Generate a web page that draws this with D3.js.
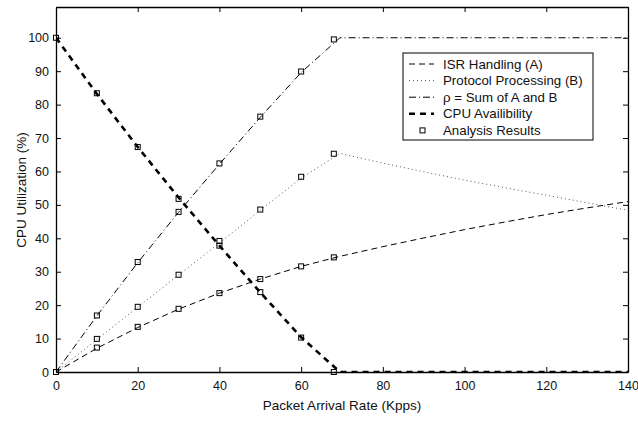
<!DOCTYPE html>
<html>
<head>
<meta charset="utf-8">
<script src="https://cdn.jsdelivr.net/npm/d3@7"></script>
<style>
body { margin: 0; background: #fff; }
svg { font-family: "Liberation Sans", Arial, sans-serif; }
</style>
</head>
<body>
<div id="chart-area"></div>
<script>
// model curves
var xLine = [0, 10, 20, 30, 40, 50, 60, 69.5, 80, 90, 100, 110, 120, 130, 140];
var isrLine = [0, 7.1, 13.3, 18.8, 23.6, 27.8, 31.6, 34.6, 37.5, 40.1, 42.6, 44.9, 47.1, 49.1, 51];
var protoLine = [0, 9.7, 19.4, 29, 38.6, 48.4, 58, 65.4, 62.5, 59.9, 57.4, 55.1, 52.9, 50.6, 48.4];
var rhoLine = [0, 16.8, 32.7, 47.8, 62.2, 76.2, 89.6, 100, 100, 100, 100, 100, 100, 100, 100];
var cpuLine = [100, 83.2, 67.3, 52.2, 37.8, 23.8, 10.4, 0, 0, 0, 0, 0, 0, 0, 0];

// analysis results (squares)
var xRes = [0, 10, 20, 30, 40, 50, 60, 68];
var isrRes = [0, 7.3, 13.5, 18.9, 23.6, 27.8, 31.6, 34.3];
var protoRes = [0, 9.9, 19.5, 29.1, 39.2, 48.6, 58.4, 65.3];
var rhoRes = [0, 16.9, 32.9, 47.9, 62.4, 76.4, 89.9, 99.5];
var cpuRes = [100, 83.4, 67.3, 51.8, 37.8, 23.9, 10.3, 0];

var xTicks = [0, 20, 40, 60, 80, 100, 120, 140];
var yTicks = [0, 10, 20, 30, 40, 50, 60, 70, 80, 90, 100];

var legendNames = ["ISR Handling (A)", "Protocol Processing (B)", "\u03c1 = Sum of A and B", "CPU Availibility", "Analysis Results"];

var margin = {top: 7, right: 10, bottom: 49, left: 56};
var width = 638 - margin.left - margin.right;
var height = 421 - margin.top - margin.bottom;

var x = d3.scaleLinear().domain([0, 140]).range([0, width]);
var y = d3.scaleLinear().domain([0, 109.2]).range([height, 0]);

var svg = d3.select("#chart-area")
    .append("svg")
    .attr("width", 638)
    .attr("height", 421);

var g = svg.append("g")
    .attr("transform", "translate(" + margin.left + ", " + margin.top + ")");

g.append("defs").append("clipPath")
    .attr("id", "clip")
    .append("rect")
    .attr("width", width)
    .attr("height", height);

// axes, ticks inside like matlab
g.append("g")
    .attr("transform", "translate(0, " + height + ")")
    .call(d3.axisBottom(x).tickValues(xTicks).tickSize(-5).tickPadding(9).tickSizeOuter(0));
g.append("g")
    .call(d3.axisTop(x).tickValues(xTicks).tickSize(-5).tickFormat("").tickSizeOuter(0));
g.append("g")
    .call(d3.axisLeft(y).tickValues(yTicks).tickSize(-5).tickPadding(7).tickSizeOuter(0));
g.append("g")
    .attr("transform", "translate(" + width + ", 0)")
    .call(d3.axisRight(y).tickValues(yTicks).tickSize(-5).tickFormat("").tickSizeOuter(0));

g.selectAll(".tick text")
    .attr("font-size", "12.5px")
    .attr("font-family", "Liberation Sans, Arial, sans-serif")
    .attr("fill", "#111");
g.selectAll(".domain").attr("stroke", "#000").attr("stroke-width", 1.3);
g.selectAll(".tick line").attr("stroke", "#000");

var styles = [
    {dash: "6,4", w: 1, color: "#000"},
    {dash: "1,3", w: 1, color: "#555"},
    {dash: "7,3,1,3", w: 1, color: "#000"},
    {dash: "6,5", w: 2.6, color: "#000"}
];
var series = [isrLine, protoLine, rhoLine, cpuLine];
var results = [isrRes, protoRes, rhoRes, cpuRes];

var line = d3.line()
    .x((d) => x(d[0]))
    .y((d) => y(d[1]));

var plot = g.append("g").attr("clip-path", "url(#clip)");

series.forEach((s, i) => {
    plot.append("path")
        .datum(xLine.map((v, j) => [v, s[j]]))
        .attr("d", line)
        .attr("fill", "none")
        .attr("stroke", styles[i].color)
        .attr("stroke-width", styles[i].w)
        .attr("stroke-dasharray", styles[i].dash);
});

results.forEach((s) => {
    g.selectAll(null)
        .data(xRes.map((v, j) => [v, s[j]]))
        .enter()
        .append("rect")
        .attr("x", (d) => x(d[0]) - 2.5)
        .attr("y", (d) => y(d[1]) - 2.5)
        .attr("width", 5)
        .attr("height", 5)
        .attr("fill", "none")
        .attr("stroke", "#000")
        .attr("stroke-width", 1);
});

// axis labels
g.append("text")
    .attr("x", 286)
    .attr("y", height + 38)
    .attr("font-size", "13.5px")
    .attr("text-anchor", "middle")
    .attr("fill", "#111")
    .text("Packet Arrival Rate (Kpps)");

g.append("text")
    .attr("transform", "rotate(-90)")
    .attr("x", -183)
    .attr("y", -30)
    .attr("font-size", "13.5px")
    .attr("text-anchor", "middle")
    .attr("fill", "#111")
    .text("CPU Utilization (%)");

// legend
var legend = svg.append("g").attr("transform", "translate(403, 53)");
legend.append("rect")
    .attr("width", 190)
    .attr("height", 87)
    .attr("fill", "#fff")
    .attr("stroke", "#000")
    .attr("stroke-width", 1);

legendNames.forEach((name, i) => {
    var ly = 11 + i * 16.6;
    if (i < 4) {
        legend.append("line")
            .attr("x1", 6).attr("x2", 31)
            .attr("y1", ly).attr("y2", ly)
            .attr("stroke", styles[i].color)
            .attr("stroke-width", styles[i].w)
            .attr("stroke-dasharray", styles[i].dash);
    } else {
        legend.append("rect")
            .attr("x", 17).attr("y", ly - 2.5)
            .attr("width", 5).attr("height", 5)
            .attr("fill", "none")
            .attr("stroke", "#000");
    }
    legend.append("text")
        .attr("x", 40)
        .attr("y", ly + 4.5)
        .attr("font-size", "13.3px")
        .attr("fill", "#111")
        .text(name);
});
</script>
</body>
</html>
